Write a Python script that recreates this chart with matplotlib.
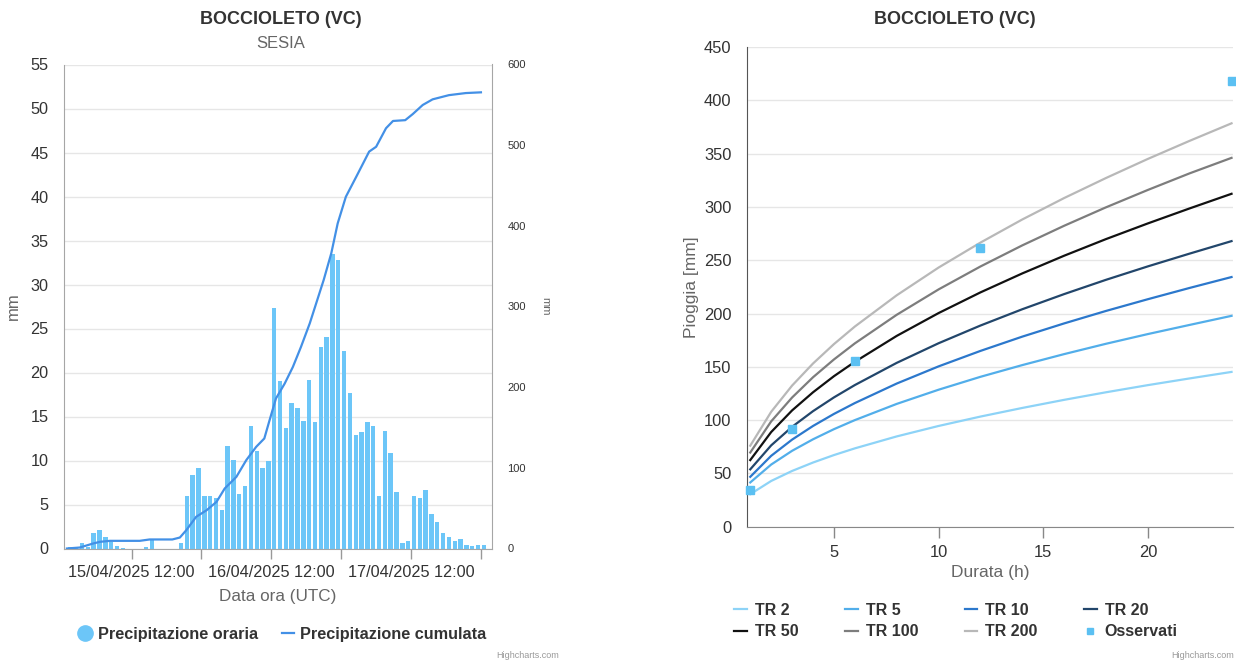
import matplotlib
matplotlib.use("Agg")
import matplotlib.pyplot as plt
from matplotlib.lines import Line2D
import numpy as np

plt.rcParams['font.family'] = ['Liberation Sans', 'DejaVu Sans']

# --- pannello sinistro: precipitazione oraria e cumulata ---
# ore contate dalle 15/04/2025 00:00 UTC
hourly_mm = [0.2, 0.2, 0.68, 0.2, 1.8, 2.1, 1.3, 0.7, 0.27, 0.1,
             0, 0, 0, 0.2, 1.06, 0, 0, 0, 0, 0.6,
             6.0, 8.3, 9.2, 6.0, 6.0, 5.7, 4.4, 11.6, 10.1, 6.2,
             7.1, 13.9, 11.1, 9.2, 10.0, 27.3, 19.0, 13.7, 16.5, 16.0,
             14.5, 19.1, 14.4, 22.9, 24.0, 33.5, 32.8, 22.5, 17.7, 12.9,
             13.2, 14.4, 13.9, 6.0, 13.3, 10.8, 6.4, 0.64, 0.87, 6.0,
             5.7, 6.6, 3.9, 3.0, 1.8, 1.3, 0.8, 1.1, 0.45, 0.27,
             0.45, 0.45]
first_bar_hour = 1.5

cum_hours = [0.9, 3.1, 5.4, 6.6, 8.3, 13.4, 15.1, 19.0, 20.3, 21.4,
             23.1, 24.9, 26.6, 28.0, 30.0, 31.7, 33.4, 34.8, 35.7, 36.8,
             38.3, 39.7, 41.1, 42.6, 45.0, 46.3, 47.4, 48.8, 50.6, 52.8,
             54.0, 55.7, 56.9, 59.0, 60.3, 62.0, 63.7, 66.5, 69.4, 72.0]
cum_mm = [0, 1.2, 6.2, 8.3, 9.5, 9.5, 11.2, 11.2, 13.6, 22.7,
          39.3, 47.5, 57.9, 74.4, 88.8, 109.5, 126, 136.4, 159, 186,
          204.5, 225, 250, 279, 333, 366, 403, 436, 461, 492,
          498, 521, 530, 531, 538.6, 549.8, 556.8, 562, 564.6, 565.5]

x_tick_hours = [12, 24, 36, 48, 60, 72]
x_tick_labels = ["15/04/2025 12:00", "", "16/04/2025 12:00", "",
                 "17/04/2025 12:00", ""]

# --- pannello destro: linee segnalatrici (TR) e osservati ---
durations_h = [1, 2, 3, 4, 5, 6, 8, 10, 12, 14, 16, 18, 20, 22, 24]
tr2 = [30.5, 42.9, 52.3, 60.2, 67.2, 73.5, 84.7, 94.5, 103.3, 111.4, 119.0, 126.1, 132.8, 139.1, 145.2]
tr5 = [41.5, 58.3, 71.2, 82.0, 91.5, 100.0, 115.2, 128.5, 140.6, 151.6, 161.9, 171.6, 180.7, 189.3, 197.8]
tr10 = [46.8, 66.5, 81.7, 94.5, 105.8, 116.0, 134.3, 150.4, 164.9, 178.3, 190.7, 202.4, 213.4, 224.0, 234.2]
tr20 = [53.8, 76.3, 93.7, 108.4, 121.3, 132.9, 153.7, 172.1, 188.7, 204.0, 218.2, 231.6, 244.2, 256.2, 267.9]
tr50 = [62.5, 88.8, 109.1, 126.1, 141.2, 154.7, 179.0, 200.4, 219.8, 237.6, 254.2, 269.8, 284.5, 298.6, 312.3]
tr100 = [69.6, 98.8, 121.2, 140.2, 156.9, 172.0, 198.8, 222.6, 244.1, 263.9, 282.3, 299.6, 315.9, 331.5, 346.0]
tr200 = [76.0, 107.8, 132.4, 153.1, 171.3, 187.8, 217.1, 243.1, 266.5, 288.2, 308.3, 327.1, 345.0, 362.0, 378.4]
tr_names = ["TR 2", "TR 5", "TR 10", "TR 20", "TR 50", "TR 100", "TR 200"]
tr_colors = ["#8dd3f7", "#52aeea", "#2c78cc", "#22466b", "#111111", "#7d7d7d", "#b8b8b8"]

obs_durations = [1, 3, 6, 12, 24]
obs_mm = [34, 92, 155, 261, 418]

W, H = 1236, 661
fig = plt.figure(figsize=(W / 100, H / 100), dpi=100)


def fx(px):
    return px / W


def fy(py):
    return 1 - py / H


text_col = "#333333"
label_col = "#666666"
grid_col = "#e6e6e6"

# ---------------- sinistra ----------------
ax = fig.add_axes([fx(64), fy(548.5), fx(492) - fx(64), fy(64.5) - fy(548.5)])
bar_hours = np.arange(len(hourly_mm)) + first_bar_hour
ax.bar(bar_hours, hourly_mm, width=0.76, color="#6cc6f8", zorder=2)
ax.set_xlim(0.4, 73.9)
ax.set_ylim(0, 55)
ax.set_yticks(range(0, 56, 5))
ax.yaxis.grid(True, color=grid_col, lw=1)
ax.set_axisbelow(True)
ax.set_xticks(x_tick_hours)
ax.set_xticklabels(x_tick_labels)
ax.tick_params(axis="x", length=7, width=1, color="#999999", pad=5,
               labelsize=11.7, labelcolor=text_col)
ax.tick_params(axis="y", length=0, pad=11, labelsize=11.7, labelcolor=text_col)
for s in ["top", "right"]:
    ax.spines[s].set_visible(False)
for s in ["left", "bottom"]:
    ax.spines[s].set_color("#a6a6a6")
ax.set_ylabel("mm", fontsize=12, color=label_col)
ax.yaxis.set_label_coords(-0.1, 0.5)
ax.set_xlabel("Data ora (UTC)", fontsize=12.3, color=label_col)
ax.xaxis.set_label_coords(0.5, -0.083)

ax2 = ax.twinx()
ax2.plot(cum_hours, cum_mm, color="#4390e6", lw=1.6)
ax2.set_ylim(0, 600)
ax2.set_yticks(range(0, 601, 100))
ax2.tick_params(axis="y", length=0, pad=11, labelsize=8, labelcolor=text_col)
for s in ["top", "left", "bottom"]:
    ax2.spines[s].set_visible(False)
ax2.spines["right"].set_color("#a6a6a6")
ax2.set_ylabel("mm", fontsize=8, color=label_col, rotation=-90)
ax2.yaxis.set_label_coords(1.137, 0.5)

fig.text(fx(281), fy(20), "BOCCIOLETO (VC)", ha="center", va="center",
         fontsize=13, fontweight="bold", color=text_col)
fig.text(fx(281), fy(44), "SESIA", ha="center", va="center",
         fontsize=12, color=label_col)

left_handles = [
    Line2D([], [], marker="o", ls="none", ms=11, color="#6cc6f8"),
    Line2D([], [], color="#4390e6", lw=1.6),
]
leg1 = fig.legend(left_handles, ["Precipitazione oraria", "Precipitazione cumulata"],
                  loc="center", bbox_to_anchor=(fx(283), fy(634)), ncol=2,
                  frameon=False, handlelength=0.7, handletextpad=0.4,
                  columnspacing=1.5, prop={"weight": "bold", "size": 11.7})
for t in leg1.get_texts():
    t.set_color(text_col)

fig.text(fx(559), fy(655), "Highcharts.com", ha="right", va="center",
         fontsize=6.5, color="#999999")

# ---------------- destra ----------------
axr = fig.add_axes([fx(746.7), fy(526.7), fx(1233) - fx(746.7), fy(47) - fy(526.7)])
tr_series = [tr2, tr5, tr10, tr20, tr50, tr100, tr200]
tr_lines = []
for vals, name, col in zip(tr_series, tr_names, tr_colors):
    ln, = axr.plot(durations_h, vals, color=col, lw=1.6, label=name, zorder=3)
    tr_lines.append(ln)
obs, = axr.plot(obs_durations, obs_mm, "s", color="#5bc0f2", ms=5.5,
                clip_on=False, zorder=4, label="Osservati")
axr.set_xlim(0.83, 24.07)
axr.set_ylim(0, 450)
axr.set_yticks(range(0, 451, 50))
axr.set_xticks([5, 10, 15, 20])
axr.yaxis.grid(True, color=grid_col, lw=1)
axr.set_axisbelow(True)
axr.tick_params(axis="x", length=8, width=1, color="#888888", pad=5,
                labelsize=11.9, labelcolor=text_col)
axr.tick_params(axis="y", length=0, pad=11, labelsize=11.9, labelcolor=text_col)
for s in ["top", "right"]:
    axr.spines[s].set_visible(False)
axr.spines["left"].set_color("#555555")
axr.spines["bottom"].set_color("#888888")
axr.set_ylabel("Pioggia [mm]", fontsize=12.5, color=label_col)
axr.yaxis.set_label_coords(-0.098, 0.5)
axr.set_xlabel("Durata (h)", fontsize=12.5, color=label_col)
axr.xaxis.set_label_coords(0.5, -0.08)

fig.text(fx(955), fy(20), "BOCCIOLETO (VC)", ha="center", va="center",
         fontsize=13, fontweight="bold", color=text_col)

# ordine per colonne (matplotlib riempie per colonna)
order = [0, 4, 1, 5, 2, 6, 3, 7]
handles = tr_lines + [obs]
labels = tr_names + ["Osservati"]
leg2 = fig.legend([handles[i] for i in order], [labels[i] for i in order],
                  loc="center", bbox_to_anchor=(fx(956), fy(621)), ncol=4,
                  frameon=False, handlelength=0.8, handletextpad=0.5,
                  columnspacing=2.9, labelspacing=0.4, markerscale=0.8,
                  prop={"weight": "bold", "size": 11.5})
for t in leg2.get_texts():
    t.set_color(text_col)

fig.text(fx(1234), fy(655), "Highcharts.com", ha="right", va="center",
         fontsize=6.5, color="#999999")

fig.savefig("out.png", dpi=100, facecolor="white")
